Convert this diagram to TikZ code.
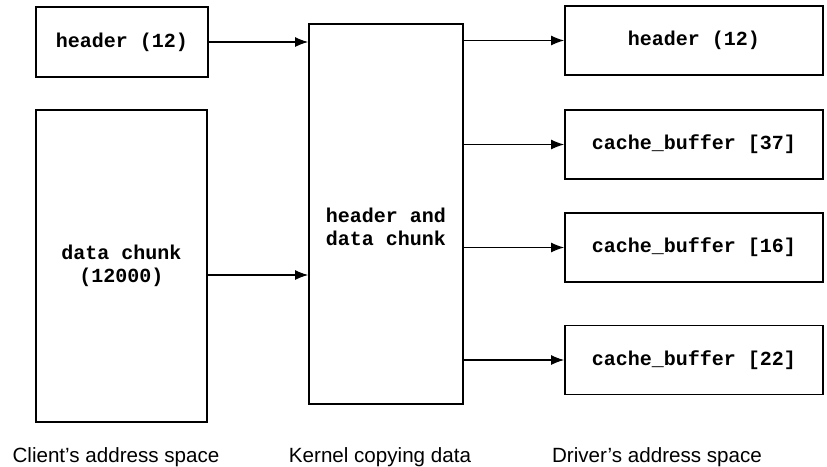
\documentclass[tikz,border=0pt]{standalone}
\usepackage{fontspec}
\setmainfont{Liberation Sans}
\setmonofont{Liberation Mono}
\usetikzlibrary{calc,positioning,arrows.meta}
\tikzset{buf/.style={draw, line width=0.9pt, inner sep=0pt, align=center,
  font=\ttfamily\bfseries\fontsize{10}{11.5}\selectfont}}
\tikzset{buftxt/.style={draw=none, inner sep=0pt, align=center,
  font=\ttfamily\bfseries\fontsize{10}{11.5}\selectfont}}
\tikzset{spacecap/.style={draw=none, inner sep=0pt, anchor=base,
  font=\fontsize{10.3}{12}\selectfont}}
\tikzset{copy/.style={black, line width=0.55pt, -{Latex[length=6.5pt,width=5pt]}}}

\begin{document}
\begin{tikzpicture}[x=0.5pt,y=-0.5pt]
\useasboundingbox (0,0) rectangle (827,467);

\node[buf, minimum width=86pt, minimum height=35pt](hdrC) at (122,42)
{header (12)};

\node[buf, minimum width=85.5pt, minimum height=156pt](dataC) at (121.5,266)
{data chunk\\(12000)};

\node[buf, minimum width=77pt, minimum height=190pt](kern) at (386,214) {};
\node[buftxt](kernTxt) at (386,227) {header and\\data chunk};

\node[buf, minimum width=129pt, minimum height=34.5pt](hdrD) at (694,40.5)
{header (12)};
\node[buf, minimum width=129pt, minimum height=34.5pt](buf37) at (694,144.5)
{cache\_buffer [37]};
\node[buf, minimum width=129pt, minimum height=34.5pt](buf16) at (694,247.5)
{cache\_buffer [16]};
\node[buf, minimum width=129pt, minimum height=34.5pt](buf22) at (694,360)
{cache\_buffer [22]};

\node[spacecap](capC) at (116,462) {Client’s address space};
\node[spacecap](capK) at (380,462) {Kernel copying data};
\node[spacecap](capD) at (657,462) {Driver’s address space};

\draw[copy] (hdrC.east) -- (hdrC.east -| kern.west);
\draw[copy] ([yshift=-4.5pt]dataC.east) -- ([yshift=-4.5pt]dataC.east -| kern.west);

\draw[copy] (kern.east |- hdrD.west) -- (hdrD.west);
\draw[copy] (kern.east |- buf37.west) -- (buf37.west);
\draw[copy] (kern.east |- buf16.west) -- (buf16.west);
\draw[copy] (kern.east |- buf22.west) -- (buf22.west);
\end{tikzpicture}
\end{document}
